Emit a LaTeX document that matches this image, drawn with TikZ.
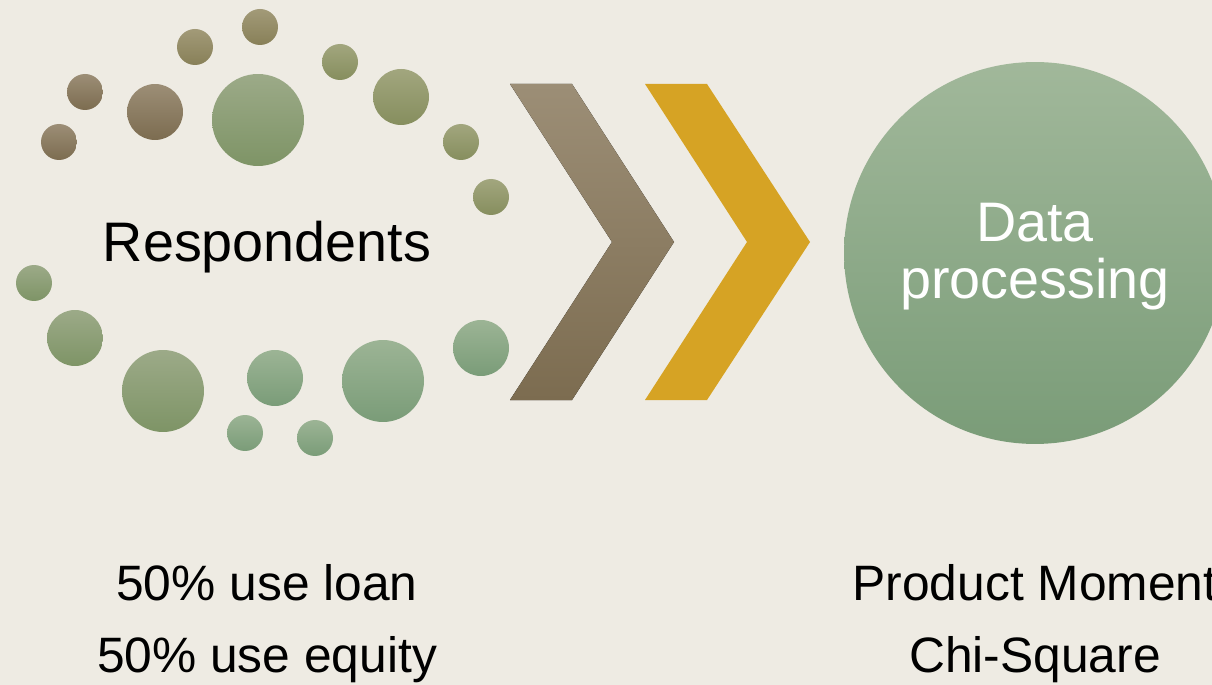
\documentclass[tikz,border=0pt]{standalone}
\usepackage{fontspec}
\setmainfont{Liberation Sans}
\usepackage{tikz}

\definecolor{paper}{RGB}{238,235,227}
\definecolor{goldchev}{RGB}{214,163,36}
\definecolor{browntop}{RGB}{156,142,118}
\definecolor{brownbot}{RGB}{124,108,80}
\definecolor{khakitop}{RGB}{162,154,120}
\definecolor{khakibot}{RGB}{136,128,88}
\definecolor{olivetop}{RGB}{162,166,126}
\definecolor{olivebot}{RGB}{134,142,94}
\definecolor{mosstop}{RGB}{156,170,136}
\definecolor{mossbot}{RGB}{126,148,102}
\definecolor{sagetop}{RGB}{156,180,149}
\definecolor{sagebot}{RGB}{122,156,120}

\tikzset{
    dot/.style={circle, inner sep=0pt, minimum size=#1},
    brownish/.style={top color=browntop, bottom color=brownbot},
    khaki/.style={top color=khakitop, bottom color=khakibot},
    olive/.style={top color=olivetop, bottom color=olivebot},
    moss/.style={top color=mosstop, bottom color=mossbot},
    sage/.style={top color=sagetop, bottom color=sagebot},
    bigtext/.style={anchor=base, font=\fontsize{31.7}{31.7}\selectfont},
    smalltext/.style={anchor=base, font=\fontsize{28.3}{28.3}\selectfont}
}

\begin{document}
\begin{tikzpicture}[x=0.02cm, y=-0.02cm]
        \useasboundingbox (0,0) rectangle (1212,685);
        \clip (0,0) rectangle (1212,685);
        \fill[paper] (0,0) rectangle (1212,685);

        % ring of dots
        \node[dot=0.72cm, brownish] at (59, 142) (d1) {};
        \node[dot=0.72cm, brownish] at (85, 92) (d2) {};
        \node[dot=1.12cm, brownish] at (155, 112) (d3) {};
        \node[dot=0.72cm, khaki] at (195, 47) (d4) {};
        \node[dot=0.72cm, khaki] at (260, 27) (d5) {};
        \node[dot=1.84cm, moss] at (258, 120) (d6) {};
        \node[dot=0.72cm, olive] at (340, 62) (d7) {};
        \node[dot=1.12cm, olive] at (401, 97) (d8) {};
        \node[dot=0.72cm, olive] at (461, 142) (d9) {};
        \node[dot=0.72cm, olive] at (491, 197) (d10) {};
        \node[dot=0.72cm, moss] at (34, 283) (d11) {};
        \node[dot=1.12cm, moss] at (75, 338) (d12) {};
        \node[dot=1.64cm, moss] at (163, 391) (d13) {};
        \node[dot=0.72cm, sage] at (245, 433) (d14) {};
        \node[dot=1.12cm, sage] at (275, 378) (d15) {};
        \node[dot=0.72cm, sage] at (315, 438) (d16) {};
        \node[dot=1.64cm, sage] at (383, 381) (d17) {};
        \node[dot=1.12cm, sage] at (481, 348) (d18) {};

        \node[bigtext] at (267, 262) (resp) {Respondents};

        % chevrons
        \fill[top color=browntop, bottom color=brownbot]
            (510, 84) -- (572, 84) -- (674, 242) -- (572, 400) -- (510, 400) -- (612, 242) -- cycle;
        \fill[goldchev]
            (645, 84) -- (707, 84) -- (810, 242) -- (707, 400) -- (645, 400) -- (747, 242) -- cycle;

        % processing
        \node[dot=7.64cm, top color=sagetop!95!white, bottom color=sagebot] at (1035, 253) (proc) {};
        \node[bigtext, text=white] at (1035, 242) (data) {Data};
        \node[bigtext, text=white] at (1035, 299) (processing) {processing};

        \node[smalltext] at (267, 600) (loan) {50\% use loan};
        \node[smalltext] at (267, 672) (equity) {50\% use equity};
        \node[smalltext] at (1035, 600) (pm) {Product Moment};
        \node[smalltext] at (1035, 672) (chi) {Chi-Square};
    \end{tikzpicture}
\end{document}
